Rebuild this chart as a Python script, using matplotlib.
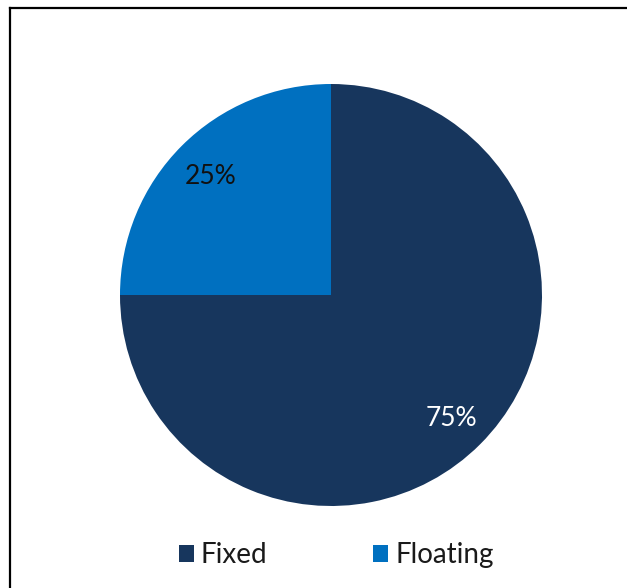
import matplotlib.pyplot as plt
from matplotlib.lines import Line2D
from matplotlib.patches import Patch

plt.rcParams['font.family'] = ['Lato', 'DejaVu Sans']

labels = ['Floating', 'Fixed']
shares = [25, 75]
colors = ['#0070c0', '#17365d']
text_colors = ['#111111', 'white']

legend_order = ['Fixed', 'Floating']

W, H = 627, 588
fig = plt.figure(figsize=(W / 100, H / 100), dpi=100)

# pie centre ~ (331, 295) px, radius ~211 px
cx, cy, r = 331, 295, 211
ax = fig.add_axes([(cx - r) / W, (H - cy - r) / H, 2 * r / W, 2 * r / H])

wedges, texts, autotexts = ax.pie(
    shares, colors=colors, startangle=90, counterclock=True,
    autopct='%d%%', pctdistance=0.81,
    wedgeprops=dict(linewidth=0),
    textprops=dict(fontsize=19),
)
for t, c in zip(autotexts, text_colors):
    t.set_color(c)
    t.set_verticalalignment('center_baseline')
ax.set_xlim(-1, 1)
ax.set_ylim(-1, 1)
ax.set_aspect('equal')

# frame lines (top and left)
fig.add_artist(Line2D([10 / W, 1], [1 - 8 / H, 1 - 8 / H], transform=fig.transFigure,
                      color='black', linewidth=1.6))
fig.add_artist(Line2D([10 / W, 10 / W], [1 - 8 / H, 0], transform=fig.transFigure,
                      color='black', linewidth=1.6))

handles = [Patch(facecolor=colors[labels.index(n)]) for n in legend_order]
leg = fig.legend(handles, legend_order, loc='center', bbox_to_anchor=(336 / W, 1 - 555 / H),
                 ncol=2, frameon=False, borderpad=0, handlelength=0.55, handleheight=0.55,
                 handletextpad=0.25, columnspacing=3.8, prop=dict(size=20))
for t in leg.get_texts():
    t.set_color('#1a1a1a')

fig.savefig('out.png', dpi=100)
